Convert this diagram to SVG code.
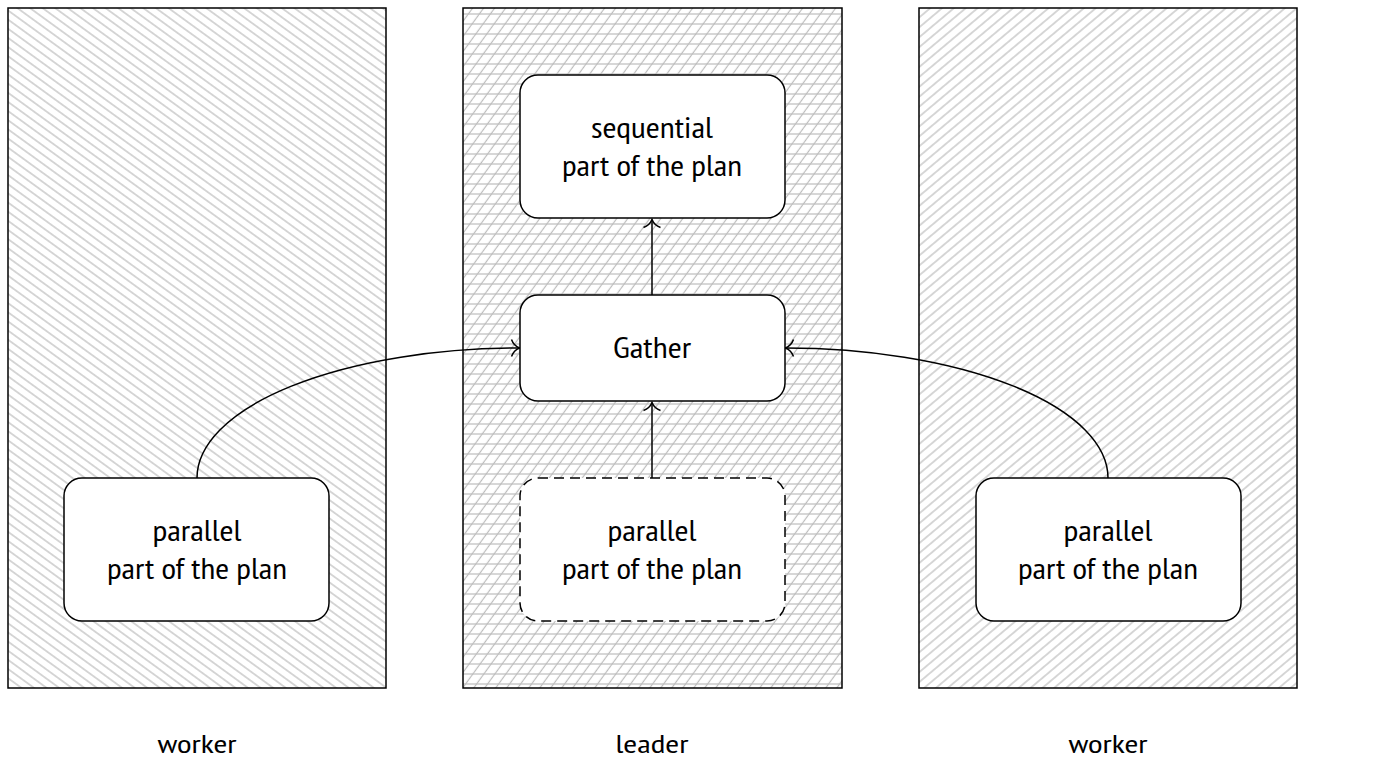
<svg xmlns="http://www.w3.org/2000/svg" width="1378" height="768" viewBox="0 0 1378 768">
<style>
.panel{stroke:#000;stroke-width:1.5;fill:none}
.node{fill:#fff;stroke:#000;stroke-width:1.5}
.dashed{stroke-dasharray:10 6}
.t{font-family:"PT Sans Narrow","Liberation Sans Narrow","DejaVu Sans Condensed","Liberation Sans",sans-serif;font-size:29px;fill:#000;text-anchor:middle}
.lbl{font-size:26px}
.conn{fill:none;stroke:#000;stroke-width:1.5;marker-end:url(#arr)}
.hatch{stroke:#bcbcbc;stroke-width:1.2}
</style>
<defs>
<pattern id="hLeft" patternUnits="userSpaceOnUse" width="20" height="7.4" patternTransform="rotate(36)">
<line class="hatch" x1="0" y1="3.7" x2="20" y2="3.7"/>
</pattern>
<pattern id="hRight" patternUnits="userSpaceOnUse" width="20" height="7.6" patternTransform="rotate(-40)">
<line class="hatch" x1="0" y1="3.8" x2="20" y2="3.8"/>
</pattern>
<pattern id="hHoriz" patternUnits="userSpaceOnUse" width="20" height="10">
<line class="hatch" x1="0" y1="4" x2="20" y2="4"/>
</pattern>
<pattern id="hDiag" patternUnits="userSpaceOnUse" width="20" height="8.9" patternTransform="rotate(-54)">
<line class="hatch" x1="0" y1="4.4" x2="20" y2="4.4"/>
</pattern>
<marker id="arr" markerUnits="userSpaceOnUse" markerWidth="20" markerHeight="20" viewBox="-10 -10 20 20" refX="0" refY="0" orient="auto" overflow="visible">
<path d="M-8,-8.5 C-6,-3 -2,-0.8 0,0 C-2,0.8 -6,3 -8,8.5" fill="none" stroke="#000" stroke-width="1.5"/>
</marker>
</defs>

<g id="panel-worker-left">
<rect x="8" y="8" width="378" height="680" fill="url(#hLeft)"/>
<rect class="panel" x="8" y="8" width="378" height="680"/>
</g>
<g id="panel-leader">
<rect x="463" y="8" width="379" height="680" fill="url(#hHoriz)"/>
<rect x="463" y="8" width="379" height="680" fill="url(#hDiag)"/>
<rect class="panel" x="463" y="8" width="379" height="680"/>
</g>
<g id="panel-worker-right">
<rect x="919" y="8" width="378" height="680" fill="url(#hRight)"/>
<rect class="panel" x="919" y="8" width="378" height="680"/>
</g>

<g id="connectors">
<path class="conn" d="M652,295 L652,219.5"/>
<path class="conn" d="M652,478 L652,402.5"/>
<path class="conn" d="M197,478 A323,130 0 0 1 519.5,348"/>
<path class="conn" d="M1108,478 A323,130 0 0 0 785.5,348"/>
</g>

<g id="node-sequential">
<rect class="node" x="520" y="75" width="265" height="143" rx="18"/>
<text class="t" x="652" y="138" textLength="122" lengthAdjust="spacingAndGlyphs">sequential</text>
<text class="t" x="652" y="176" textLength="180" lengthAdjust="spacingAndGlyphs">part of the plan</text>
</g>
<g id="node-gather">
<rect class="node" x="520" y="295" width="265" height="106" rx="18"/>
<text class="t" x="652" y="358" textLength="78" lengthAdjust="spacingAndGlyphs">Gather</text>
</g>
<g id="node-parallel-leader">
<rect class="node dashed" x="520" y="478" width="265" height="143" rx="18"/>
<text class="t" x="652" y="541" textLength="89" lengthAdjust="spacingAndGlyphs">parallel</text>
<text class="t" x="652" y="579" textLength="180" lengthAdjust="spacingAndGlyphs">part of the plan</text>
</g>
<g id="node-parallel-left">
<rect class="node" x="64" y="478" width="265" height="143" rx="18"/>
<text class="t" x="197" y="541" textLength="89" lengthAdjust="spacingAndGlyphs">parallel</text>
<text class="t" x="197" y="579" textLength="180" lengthAdjust="spacingAndGlyphs">part of the plan</text>
</g>
<g id="node-parallel-right">
<rect class="node" x="976" y="478" width="265" height="143" rx="18"/>
<text class="t" x="1108" y="541" textLength="89" lengthAdjust="spacingAndGlyphs">parallel</text>
<text class="t" x="1108" y="579" textLength="180" lengthAdjust="spacingAndGlyphs">part of the plan</text>
</g>

<g id="labels">
<text class="t lbl" x="197" y="753" textLength="79" lengthAdjust="spacingAndGlyphs">worker</text>
<text class="t lbl" x="652" y="753" textLength="73" lengthAdjust="spacingAndGlyphs">leader</text>
<text class="t lbl" x="1108" y="753" textLength="79" lengthAdjust="spacingAndGlyphs">worker</text>
</g>
</svg>
